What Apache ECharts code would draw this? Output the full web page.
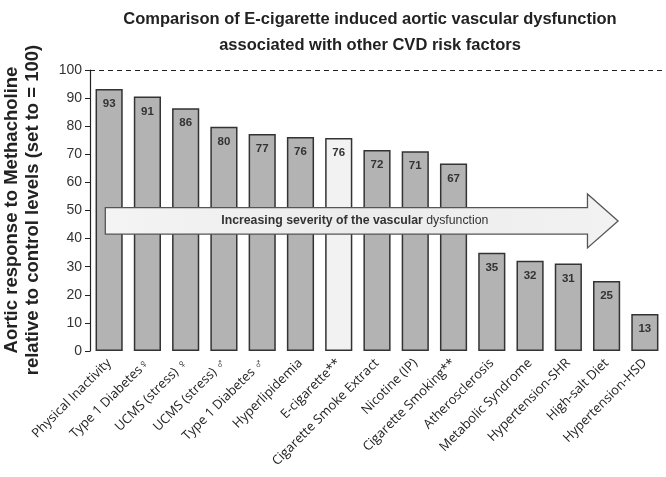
<!DOCTYPE html>
<html><head><meta charset="utf-8">
<script src="https://cdn.jsdelivr.net/npm/echarts@6/dist/echarts.min.js"></script>
<style>html,body{margin:0;padding:0;background:#fff}#c{width:666px;height:477px}</style>
</head><body><div id="c"></div>
<script>
var categories = ["Physical Inactivity","Type 1 Diabetes\u2640","UCMS (stress) \u2640","UCMS (stress) \u2642","Type 1 Diabetes \u2642","Hyperlipidemia","E-cigarette**","Cigarette Smoke Extract","Nicotine (IP)","Cigarette Smoking**","Atherosclerosis","Metabolic Syndrome","Hypertension-SHR","High-salt Diet","Hypertension-HSD"];
var values = [93.2,90.6,86.4,79.8,77.2,76.2,75.8,71.5,71.1,66.7,35.0,32.1,31.1,24.9,13.2];
var valueLabels = ["93","91","86","80","77","76","76","72","71","67","35","32","31","25","13"];
var highlight = "E-cigarette**";
var yTicks = [0,10,20,30,40,50,60,70,80,90,100];

var chart = echarts.init(document.getElementById('c'), null, {renderer:'canvas'});
var data = values.map(function(v,i){
  return {value:v, itemStyle:{color: categories[i]===highlight ? '#f2f2f2' : '#b3b3b3'}};
});
chart.setOption({
  backgroundColor:'#fff',
  animation:false,
  title:{
    text:'Comparison of E-cigarette induced aortic vascular dysfunction\nassociated with other CVD risk factors',
    left:365, top:1, textAlign:'center',
    textStyle:{fontFamily:'Liberation Sans', fontWeight:'bold', fontSize:16.5, color:'#222', lineHeight:26}
  },
  grid:{left:90, right:2, top:70, bottom:126},
  xAxis:{
    type:'category', data:categories,
    axisLine:{show:false}, axisTick:{show:false},
    axisLabel:{rotate:45, interval:0, margin:10, fontFamily:'Open Sans', fontSize:13, color:'#222'}
  },
  yAxis:{
    type:'value', min:0, max:100, interval:10,
    axisLine:{show:true, lineStyle:{color:'#222', width:1.2}},
    axisTick:{show:true, inside:false, length:5, lineStyle:{color:'#222'}},
    splitLine:{show:false},
    axisLabel:{fontFamily:'Liberation Sans', fontSize:14, color:'#333', margin:8,
      formatter:function(v){return yTicks.indexOf(v)>=0 ? String(v) : '';}}
  },
  series:[{
    type:'bar', data:data, barCategoryGap:'29%',
    itemStyle:{borderColor:'#333', borderWidth:1.5},
    label:{show:true, position:'insideTop', distance:9,
      formatter:function(p){return valueLabels[p.dataIndex];},
      fontFamily:'Liberation Sans', fontWeight:'bold', fontSize:11.5, color:'#333'},
    markLine:{silent:true, symbol:'none', label:{show:false},
      lineStyle:{type:[5,4], color:'#222', width:1},
      data:[{yAxis:100}]}
  }]
});

function drawArrow(){
  var yc = 46.3, bodyH = 4.7, headH = 9.6;
  var xs = -0.1, xh = 12.5, xt = 13.3;
  var x0 = chart.convertToPixel({xAxisIndex:0}, 0), x1 = chart.convertToPixel({xAxisIndex:0}, 1);
  var step = x1 - x0;
  var X = function(i){return x0 + i*step;};
  var Y = function(v){return chart.convertToPixel({yAxisIndex:0}, v);};
  var pts = [[X(xs),Y(yc+bodyH)],[X(xh),Y(yc+bodyH)],[X(xh),Y(yc+headH)],[X(xt),Y(yc)],[X(xh),Y(yc-headH)],[X(xh),Y(yc-bodyH)],[X(xs),Y(yc-bodyH)]];
  chart.setOption({graphic:[
    {type:'polygon', z:100, shape:{points:pts},
     style:{fill:new echarts.graphic.LinearGradient(0,0,1,0,[{offset:0,color:'#f4f4f4'},{offset:0.5,color:'#ececec'},{offset:1,color:'#f2f2f2'}]), stroke:'#555', lineWidth:1.3}},
    {type:'text', z:101, x:X(6.42), y:Y(yc),
     style:{text:'{b|Increasing severity of the vascular} {n|dysfunction}', align:'center', verticalAlign:'middle',
       rich:{b:{fontFamily:'Liberation Sans', fontWeight:'bold', fontSize:12.3, fill:'#333'},
             n:{fontFamily:'Liberation Sans', fontWeight:'normal', fontSize:12.3, fill:'#333'}}}},
    {type:'text', z:101, x:22, y:210, rotation:Math.PI/2,
     style:{text:'Aortic response to Methacholine\nrelative to control levels (set to = 100)', align:'center', verticalAlign:'middle',
       font:'bold 18.5px "Liberation Sans"', fill:'#222', lineHeight:21}}
  ]});
}
drawArrow();
</script></body></html>
